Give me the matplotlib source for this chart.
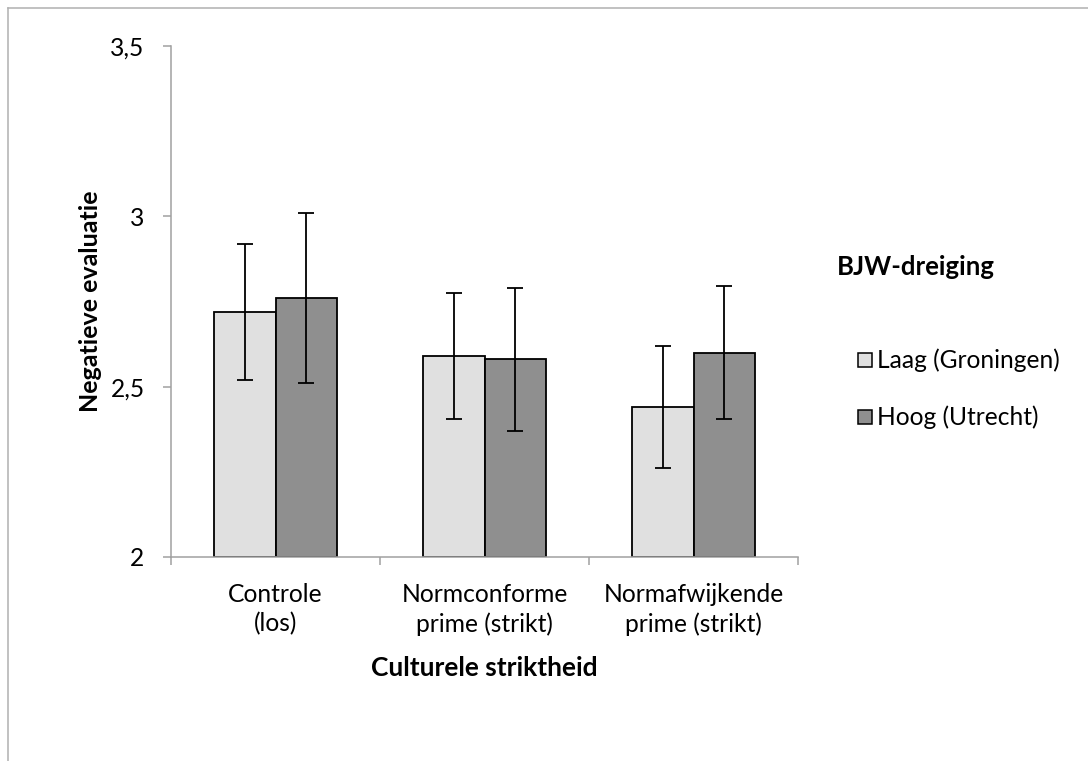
import matplotlib
matplotlib.use("Agg")
import matplotlib.pyplot as plt
from matplotlib.patches import Rectangle
from matplotlib.lines import Line2D
import numpy as np

plt.rcParams['font.family'] = ['Lato', 'DejaVu Sans']

categories = ["Controle\n(los)", "Normconforme\nprime (strikt)", "Normafwijkende\nprime (strikt)"]
series_names = ["Laag (Groningen)", "Hoog (Utrecht)"]
laag = [2.72, 2.59, 2.44]
hoog = [2.76, 2.58, 2.60]
laag_err = [0.20, 0.186, 0.18]
hoog_err = [0.25, 0.21, 0.195]
yticks = [2, 2.5, 3, 3.5]
ytick_labels = ["2", "2,5", "3", "3,5"]
colors = ["#E0E0E0", "#8F8F8F"]

W, H = 1088, 761
fig = plt.figure(figsize=(W / 100, H / 100), dpi=100)
ax = fig.add_axes([171 / W, 1 - 557 / H, (798 - 171) / W, (557 - 46) / H])

FS = 17.7
x = np.arange(len(categories))
bw = 0.292
gray = "#A0A0A0"
for i, (vals, errs) in enumerate([(laag, laag_err), (hoog, hoog_err)]):
    pos = x + (i - 0.5) * bw
    ax.bar(pos, np.array(vals) - 2, bottom=2, width=bw, color=colors[i],
           edgecolor="black", linewidth=1.3, zorder=2)
    ax.errorbar(pos, vals, yerr=errs, fmt="none", ecolor="black",
                elinewidth=1.3, capsize=5.5, capthick=1.3, zorder=3)

ax.set_xlim(-0.5, 2.5)
ax.set_ylim(2, 3.5)
ax.set_yticks(yticks)
ax.set_yticklabels(ytick_labels)
ax.set_xticks([-0.5, 0.5, 1.5, 2.5])
ax.set_xticklabels([])
ax.set_xticks(x, minor=True)
ax.set_xticklabels(categories, minor=True, fontsize=FS, linespacing=1.32)
ax.tick_params(axis="x", which="minor", length=0, pad=18.5)
ax.tick_params(axis="x", which="major", length=6, width=1.1, color=gray, direction="out")
ax.tick_params(axis="y", length=6, width=1.1, color=gray, direction="out", pad=13, labelsize=FS)

for s in ["top", "right"]:
    ax.spines[s].set_visible(False)
for s in ["left", "bottom"]:
    ax.spines[s].set_color(gray)
    ax.spines[s].set_linewidth(1.1)

fig.text(90 / W, 1 - 301 / H, "Negatieve evaluatie", fontsize=18, fontweight="bold",
         rotation=90, ha="center", va="center")
fig.text(484 / W, 1 - 668 / H, "Culturele striktheid", fontsize=19, fontweight="bold",
         ha="center", va="center")

fig.text(837 / W, 1 - 267 / H, "BJW-dreiging", fontsize=18.5, fontweight="bold",
         ha="left", va="center")
row_y = [360, 417]
for i, name in enumerate(series_names):
    fig.add_artist(Rectangle((858 / W, 1 - (row_y[i] + 7) / H), 14 / W, 14 / H,
                             facecolor=colors[i], edgecolor="black", linewidth=1.1,
                             transform=fig.transFigure))
    fig.text(877 / W, 1 - row_y[i] / H, name, fontsize=FS, ha="left", va="center")

# outer chart border (left and top only, as in the cropped reference)
fig.add_artist(Line2D([8 / W, 8 / W], [0, 1 - 8 / H], color="#B0B0B0", lw=1.1,
                      transform=fig.transFigure))
fig.add_artist(Line2D([8 / W, 1], [1 - 8 / H, 1 - 8 / H], color="#B0B0B0", lw=1.1,
                      transform=fig.transFigure))

fig.savefig("out.png", dpi=100)
